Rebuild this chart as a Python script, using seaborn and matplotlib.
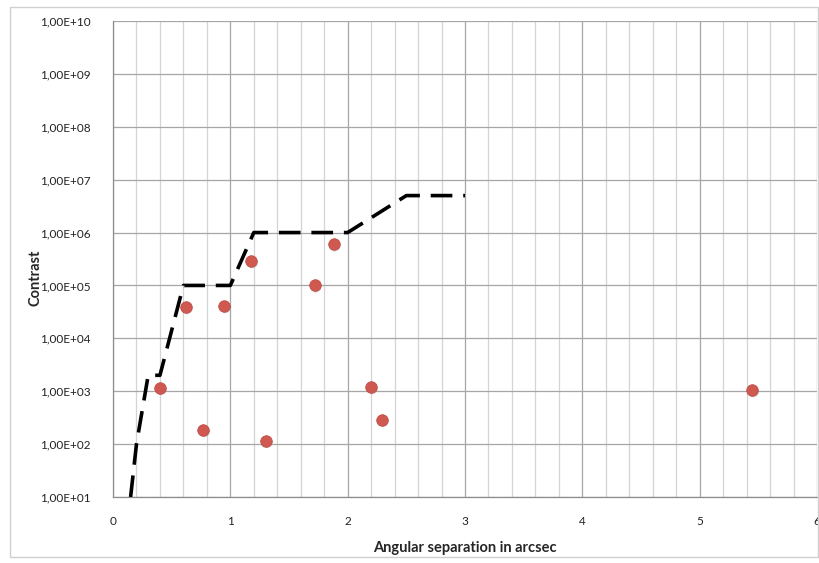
import matplotlib
matplotlib.use("Agg")
import matplotlib.pyplot as plt
import matplotlib.ticker as mticker
from matplotlib.patches import Rectangle
import seaborn as sns
import pandas as pd
import numpy as np

# Contrast curve (dashed)
curve_x = [0.15, 0.2, 0.3, 0.4, 0.6, 1.0, 1.2, 2.0, 2.5, 3.0]
curve_y = [1e1, 1e2, 2e3, 2e3, 1e5, 1e5, 1e6, 1e6, 5e6, 5e6]

# Detected objects
pts_x = [0.40, 0.62, 0.77, 0.95, 1.18, 1.30, 1.72, 1.88, 2.20, 2.29, 5.45]
pts_y = [1.15e3, 3.9e4, 1.85e2, 4.1e4, 2.9e5, 1.15e2, 1.0e5, 6.0e5, 1.2e3, 2.9e2, 1.05e3]

sns.set_style("white")
plt.rcParams['font.family'] = ['Lato', 'DejaVu Sans']

fig = plt.figure(figsize=(8.2, 5.63), dpi=100)
ax = fig.add_axes([113/820, 1-497/563, (817-113)/820, (497-21)/563])

df_c = pd.DataFrame({"x": curve_x, "y": curve_y})
df_p = pd.DataFrame({"x": pts_x, "y": pts_y})

sns.lineplot(data=df_c, x="x", y="y", ax=ax, color="black", linewidth=2.6,
             dashes=False, zorder=3, sort=False)
ax.lines[-1].set_dashes([6, 3])
# shadow for markers
sns.scatterplot(data=df_p, x="x", y="y", ax=ax, s=70, color="#9a9a9a", alpha=0.3,
                edgecolor="none", zorder=3, legend=False)
for c in ax.collections:
    c.set_offset_transform(ax.transData + matplotlib.transforms.ScaledTranslation(1/100, -1.5/100, fig.dpi_scale_trans))
sns.scatterplot(data=df_p, x="x", y="y", ax=ax, s=70, color="#CF5850",
                edgecolor="#bb4a44", linewidth=0.5, zorder=4, legend=False)

ax.set_yscale("log")
ax.set_xlim(0, 6)
ax.set_ylim(1e1, 1e10)
ax.set_xticks(range(0, 7))
ax.set_xticks(np.arange(0, 6.01, 0.2), minor=True)
ax.set_yticks([10.0**k for k in range(1, 11)])
ax.yaxis.set_minor_locator(mticker.NullLocator())
ax.set_yticklabels(["1,00E+%02d" % k for k in range(1, 11)])
ax.set_xticklabels([str(k) for k in range(0, 7)])

ax.grid(True, which="major", color="#a6a6a6", linewidth=0.9)
ax.grid(True, which="minor", axis="x", color="#d4d4d4", linewidth=0.9)
ax.set_axisbelow(True)
for s in ["top", "right"]:
    ax.spines[s].set_visible(False)
for s in ["left", "bottom"]:
    ax.spines[s].set_color("#8c8c8c")
    ax.spines[s].set_linewidth(0.9)

ax.tick_params(axis="both", which="major", length=4, color="#8c8c8c",
               labelsize=8.5, labelcolor="#222222", direction="out")
ax.tick_params(axis="x", pad=10)
ax.tick_params(axis="y", pad=12)
ax.tick_params(axis="x", which="minor", length=0)

ax.set_xlabel("Angular separation in arcsec", fontsize=10.5, fontweight="bold")
ax.set_ylabel("Contrast", fontsize=10.5, fontweight="bold")
ax.xaxis.set_label_coords((465-113)/704, -(548-497)/476)
ax.yaxis.set_label_coords(-(113-35)/704, (497-278)/476)
ax.xaxis.label.set_va("center")
ax.yaxis.label.set_va("center")

fig.patches.append(Rectangle((10/820, 1-557/563), 808/820, 550/563, transform=fig.transFigure,
                             fill=False, edgecolor="#d0d0d0", linewidth=1))

fig.savefig("out.png", dpi=100)
